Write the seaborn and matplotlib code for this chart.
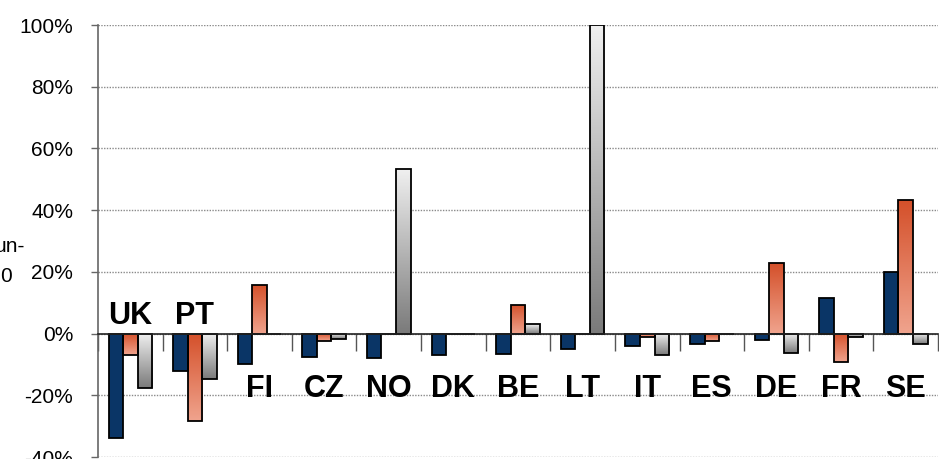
import numpy as np
import pandas as pd
import matplotlib
matplotlib.use("Agg")
import matplotlib.pyplot as plt
import seaborn as sns
from matplotlib.colors import LinearSegmentedColormap

# data (percent)
countries = ["UK", "PT", "FI", "CZ", "NO", "DK", "BE", "LT", "IT", "ES", "DE", "FR", "SE"]
series_names = ["Series 1", "Series 2", "Series 3"]
series_1 = [-33.8, -12.0, -9.8, -7.7, -7.8, -7.1, -6.5, -4.9, -4.1, -3.4, -2.1, 11.6, 20.1]
series_2 = [-7.0, -28.2, 15.9, -2.5, 0.0, 0.0, 9.4, 0.0, -1.2, -2.5, 22.9, -9.1, 43.4]
series_3 = [-17.6, -14.7, 0.0, -1.9, 53.2, 0.0, 3.1, 100.0, -7.0, 0.0, -6.3, -1.2, -3.4]
labels_above = ["UK", "PT"]
yticks = [-40, -20, 0, 20, 40, 60, 80, 100]

df = pd.DataFrame({
    "country": countries * 3,
    "series": np.repeat(series_names, len(countries)),
    "value": series_1 + series_2 + series_3,
})

sns.set_style("white")
plt.rcParams["font.family"] = ["Liberation Sans", "DejaVu Sans"]
plt.rcParams["text.color"] = "black"

fig = plt.figure(figsize=(9.39, 4.59), dpi=100)
ax = fig.add_axes([98 / 939, 1 - 457 / 459, 840 / 939, 432 / 459])

sns.barplot(data=df, x="country", y="value", hue="series", hue_order=series_names,
            order=countries, palette=["#0A3566", "#E07050", "#B0B0B0"], saturation=1,
            width=0.675, edgecolor="black", linewidth=1.3, legend=False, ax=ax)

ax.set_xlim(-0.5, len(countries) - 0.5)
ax.set_ylim(-40, 100)

# gradient fills for the 2nd and 3rd series
cmap_orange = LinearSegmentedColormap.from_list("o", ["#F0A48E", "#D4502A"])
cmap_gray = LinearSegmentedColormap.from_list("g", ["#7A7A7A", "#F0F0F0"])
grad = np.linspace(0, 1, 256).reshape(-1, 1)
for cont, cmap in zip(ax.containers[1:], [cmap_orange, cmap_gray]):
    for p in cont.patches:
        h = p.get_height()
        if abs(h) < 1e-9:
            continue
        x0 = p.get_x()
        x1 = x0 + p.get_width()
        y0 = min(p.get_y(), p.get_y() + h)
        y1 = max(p.get_y(), p.get_y() + h)
        im = ax.imshow(grad, cmap=cmap, origin="lower", aspect="auto",
                       extent=(x0, x1, y0, y1), zorder=p.get_zorder() - 0.01)
        im.set_clip_path(p)
        p.set_facecolor("none")

ax.set_xlim(-0.5, len(countries) - 0.5)
ax.set_ylim(-40, 100)

# grid and axes
ax.set_axisbelow(True)
ax.yaxis.grid(True, linestyle=(0, (1, 1)), color="#8A8A8A", linewidth=1.0)
ax.set_yticks(yticks)
ax.set_yticklabels([f"{v}%" for v in yticks], fontsize=15, color="black")
ax.tick_params(axis="y", direction="out", length=5, width=1, color="#666666", pad=13, left=True)
sns.despine(ax=ax, top=True, right=True)
ax.spines["left"].set_color("#666666")
ax.spines["left"].set_linewidth(1.2)
ax.spines["bottom"].set_position(("data", 0))
ax.spines["bottom"].set_color("#222222")
ax.spines["bottom"].set_linewidth(1.2)
ax.spines["bottom"].set_zorder(5)

ax.set_xticks(np.arange(-0.5, len(countries), 1.0))
ax.set_xticklabels([])
ax.tick_params(axis="x", direction="out", length=12, width=1, color="#555555", bottom=True)
ax.set_xlabel("")
ax.set_ylabel("")

# country labels
for i, c in enumerate(countries):
    y = 3.0 if c in labels_above else -20.4
    ax.text(i, y, c, ha="center", va="baseline", fontsize=22, fontweight="bold", color="black")

# fragment of a cut-off label on the left edge
fig.text(25 / 939, 1 - 247 / 459, "un-", ha="right", va="center", fontsize=15, color="black")
fig.text(12 / 939, 1 - 276 / 459, "0", ha="right", va="center", fontsize=15, color="black")

fig.savefig("out.png", dpi=100)
